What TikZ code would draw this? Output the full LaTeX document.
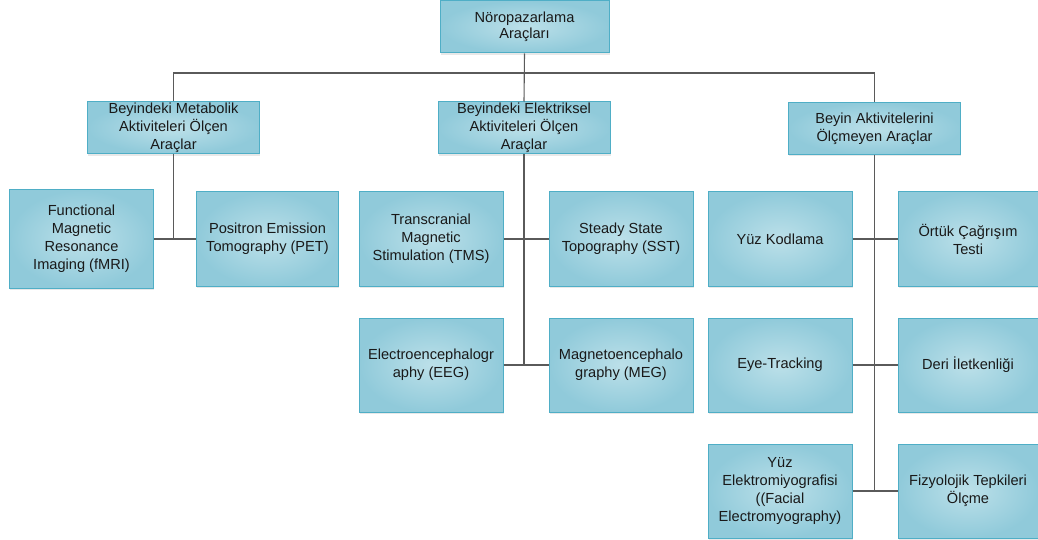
\documentclass[tikz,border=0pt]{standalone}
\usepackage{fontspec}
\setmainfont{Liberation Sans}
\usetikzlibrary{positioning, shadows}

\definecolor{boxedge}{HTML}{4FAEC6}
\definecolor{boxin}{HTML}{BCE0E9}
\definecolor{boxout}{HTML}{90CADA}
\definecolor{linegray}{HTML}{5A5A5A}

\begin{document}
\begin{tikzpicture}[x=1pt, y=-1pt,
      node_box/.style={rectangle, draw=boxedge, line width=1pt, inner color=boxin, outer color=boxout, align=center, inner sep=0pt, text=black!90, font=\fontsize{14.6}{18}\selectfont, drop shadow={opacity=0.18, shadow xshift=0.5pt, shadow yshift=-2pt}},
      node_root/.style={node_box, minimum width=169pt, minimum height=52pt, font=\fontsize{14.6}{16}\selectfont},
      node_head/.style={node_box, minimum width=172pt, minimum height=52pt},
      node_leaf/.style={node_box, minimum width=144pt, minimum height=94pt},
      edge_line/.style={draw=linegray, line width=1.1pt},
      node distance=31pt and 45pt
    ]
      \useasboundingbox (0,0) rectangle (1038,540);

      \node[node_root] (root) at (524.5,27) {Nöropazarlama\\Araçları};

      \node[node_head] (metab) at (173.5,128) {Beyindeki Metabolik\\Aktiviteleri Ölçen\\Araçlar};
      \node[node_head] (elec) at (524,128) {Beyindeki Elektriksel\\Aktiviteleri Ölçen\\Araçlar};
      \node[node_head] (nonb) at (874.5,128.5) {Beyin Aktivitelerini\\Ölçmeyen Araçlar};

      \node[node_leaf, minimum height=98pt] (fmri) at (81.5,239) {Functional\\Magnetic\\Resonance\\Imaging (fMRI)};
      \node[node_leaf, minimum width=142pt, right=42pt of fmri] (pet) {Positron Emission\\Tomography (PET)};

      \node[node_leaf] (tms) at (431,239) {Transcranial\\Magnetic\\Stimulation (TMS)};
      \node[node_leaf, right=45pt of tms] (sst) {Steady State\\Topography (SST)};
      \node[node_leaf, below=31pt of tms] (eeg) {Electroencephalogr\\aphy (EEG)};
      \node[node_leaf, below=31pt of sst] (meg) {Magnetoencephalo\\graphy (MEG)};

      \node[node_leaf] (yuz) at (780,239) {Yüz Kodlama};
      \node[node_leaf, minimum width=140pt, right=45pt of yuz] (ortuk) {Örtük Çağrışım\\Testi};
      \node[node_leaf, below=31pt of yuz] (eye) {Eye-Tracking};
      \node[node_leaf, minimum width=140pt, below=31pt of ortuk] (deri) {Deri İletkenliği};
      \node[node_leaf, below=31pt of eye] (yemg) {Yüz\\Elektromiyografisi\\((Facial\\Electromyography)};
      \node[node_leaf, minimum width=140pt, below=31pt of deri] (fizyo) {Fizyolojik Tepkileri\\Ölçme};

      \coordinate (bus) at (524,73);

      \draw[edge_line] (root.south) -- (elec.north);
      \draw[edge_line] (metab.north) |- (bus) -| (nonb.north);

      \draw[edge_line] (metab.south) -- (metab.south |- pet.west);
      \draw[edge_line] (fmri.east) -- (pet.west);

      \draw[edge_line] (elec.south) -- (elec.south |- eeg.east);
      \draw[edge_line] (tms.east) -- (sst.west);
      \draw[edge_line] (eeg.east) -- (meg.west);

      \draw[edge_line] (nonb.south) -- (nonb.south |- yemg.east);
      \draw[edge_line] (yuz.east) -- (ortuk.west);
      \draw[edge_line] (eye.east) -- (deri.west);
      \draw[edge_line] (yemg.east) -- (fizyo.west);
    \end{tikzpicture}
\end{document}
